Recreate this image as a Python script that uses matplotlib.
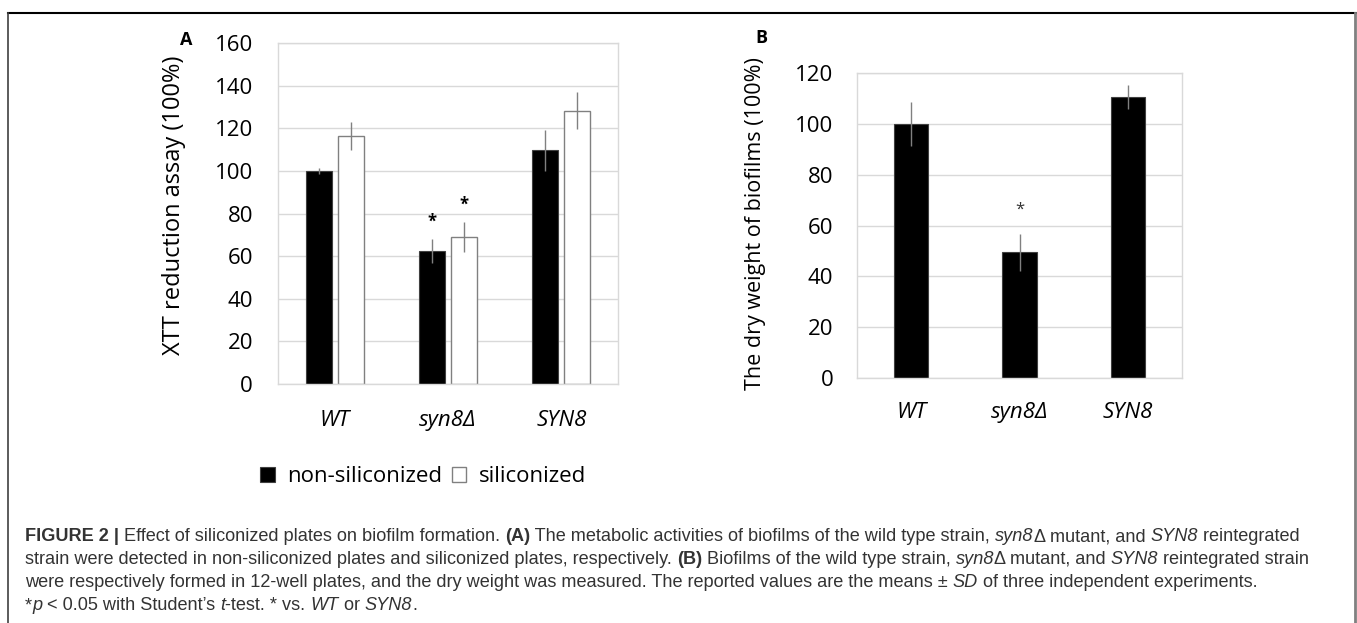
import matplotlib
matplotlib.use("Agg")
import matplotlib.pyplot as plt
from matplotlib.lines import Line2D
import numpy as np

# ---- data ----
strains = ["WT", "syn8Δ", "SYN8"]

# panel A: XTT reduction assay
xtt_non = [100, 62.5, 109.7]
xtt_non_err = [1.5, 5.7, 9.7]
xtt_sil = [116.2, 69, 128.2]
xtt_sil_err = [6.6, 7.2, 8.6]
xtt_star_non = [None, 76, None]
xtt_star_sil = [None, 84.3, None]

# panel B: dry weight
dry = [100, 49.4, 110.5]
dry_err = [8.7, 7.2, 4.8]
dry_star = [None, 66.4, None]

legend_labels = ["non-siliconized", "siliconized"]

W, H = 1357, 623
fig = plt.figure(figsize=(W / 100, H / 100), dpi=100)
FONT = ["Open Sans", "DejaVu Sans"]
plt.rcParams["font.family"] = FONT


def px_axes(l, r, t, b):
    return fig.add_axes([l / W, 1 - b / H, (r - l) / W, (b - t) / H])


def style(ax, ymax):
    ax.set_ylim(0, ymax)
    ax.set_xlim(-0.5, 2.5)
    ax.set_yticks(np.arange(0, ymax + 1, 20))
    ax.yaxis.grid(True, color="#d9d9d9", lw=1)
    ax.set_axisbelow(True)
    for s in ax.spines.values():
        s.set_color("#d9d9d9")
        s.set_linewidth(1)
    ax.set_xticks(range(len(strains)))
    ax.set_xticklabels(strains, style="italic", fontsize=16)
    ax.tick_params(length=0, labelsize=16)


x = np.arange(len(strains))
ekw = dict(ecolor="#808080", elinewidth=1, capsize=0)

# ---- panel A ----
axA = px_axes(278, 618, 43, 384)
style(axA, 160)
bA1 = axA.bar(x - 0.142, xtt_non, 0.23, color="black", edgecolor="#404040", lw=0.8,
              yerr=xtt_non_err, error_kw=ekw)
bA2 = axA.bar(x + 0.142, xtt_sil, 0.23, color="white", edgecolor="#808080", lw=1,
              yerr=xtt_sil_err, error_kw=ekw)
for i in range(len(strains)):
    if xtt_star_non[i] is not None:
        axA.text(x[i] - 0.142, xtt_star_non[i], "*", ha="center", va="center", fontsize=12, fontweight="bold")
    if xtt_star_sil[i] is not None:
        axA.text(x[i] + 0.142, xtt_star_sil[i], "*", ha="center", va="center", fontsize=12, fontweight="bold")
axA.tick_params(axis="y", pad=18)
axA.tick_params(axis="x", pad=19)
axA.set_ylabel("XTT reduction assay (100%)", fontsize=17)
axA.yaxis.set_label_coords((186 - 278) / 340, (384 - 205) / 341)

# ---- panel B ----
axB = px_axes(857, 1182, 73, 378)
style(axB, 120)
axB.bar(x, dry, 0.314, color="black", edgecolor="#404040", lw=0.8, yerr=dry_err, error_kw=ekw)
for i in range(len(strains)):
    if dry_star[i] is not None:
        axB.text(x[i], dry_star[i], "*", ha="center", va="center", fontsize=12, color="#333333")
axB.tick_params(axis="y", pad=17)
axB.tick_params(axis="x", pad=17)
axB.set_ylabel("The dry weight of biofilms (100%)", fontsize=15.5)
axB.yaxis.set_label_coords((766 - 857) / 325, (378 - 224) / 305)

# panel letters
fig.text(186 / W, 1 - 40 / H, "A", fontsize=13, fontweight="bold", ha="center", va="center")
fig.text(761 / W, 1 - 38 / H, "B", fontsize=13, fontweight="bold", ha="center", va="center")

# legend
fig.legend([bA1, bA2], legend_labels, loc="center", ncol=2, frameon=False,
           bbox_to_anchor=(423 / W, 1 - 477 / H), fontsize=16,
           handlelength=0.65, handleheight=0.65, handletextpad=0.55, columnspacing=0.45)

# outer frame
fig.add_artist(Line2D([8 / W, 1356 / W], [1 - 13 / H, 1 - 13 / H], transform=fig.transFigure, color="black", lw=1.5))
fig.add_artist(Line2D([8 / W, 8 / W], [0, 1 - 13 / H], transform=fig.transFigure, color="#404040", lw=1.2))
fig.add_artist(Line2D([1355 / W, 1355 / W], [0, 1 - 13 / H], transform=fig.transFigure, color="#808080", lw=2))

# caption with mixed styles
renderer = fig.canvas.get_renderer()
CAP = dict(family=["Liberation Sans", "DejaVu Sans"], fontsize=13.1, color="#333333", va="baseline")


def chunk_width(s, **kw):
    t1 = fig.text(0, 0, "x" + s + "x", **CAP, **kw)
    t2 = fig.text(0, 0, "xx", **CAP, **kw)
    w = t1.get_window_extent(renderer).width - t2.get_window_extent(renderer).width
    t1.remove()
    t2.remove()
    return w


def caption_line(y, parts):
    xp = 25
    for s, kw in parts:
        fig.text(xp / W, 1 - y / H, s, **CAP, **kw)
        xp += chunk_width(s, **kw)


N = {}
B = {"fontweight": "bold"}
I = {"style": "italic"}
caption_line(541, [("FIGURE 2 | ", B), ("Effect of siliconized plates on biofilm formation. ", N), ("(A)", B),
                   (" The metabolic activities of biofilms of the wild type strain, ", N), ("syn8", I),
                   ("Δ mutant, and ", N), ("SYN8", I), (" reintegrated", N)])
caption_line(564, [("strain were detected in non-siliconized plates and siliconized plates, respectively. ", N),
                   ("(B)", B), (" Biofilms of the wild type strain, ", N), ("syn8", I), ("Δ mutant, and ", N),
                   ("SYN8", I), (" reintegrated strain", N)])
caption_line(587, [("were respectively formed in 12-well plates, and the dry weight was measured. The reported values are the means ± ", N),
                   ("SD", I), (" of three independent experiments.", N)])
caption_line(610, [("*", N), ("p", I), (" < 0.05 with Student’s ", N), ("t", I), ("-test. * vs. ", N), ("WT", I),
                   (" or ", N), ("SYN8", I), (".", N)])

fig.savefig("out.png", dpi=100)
